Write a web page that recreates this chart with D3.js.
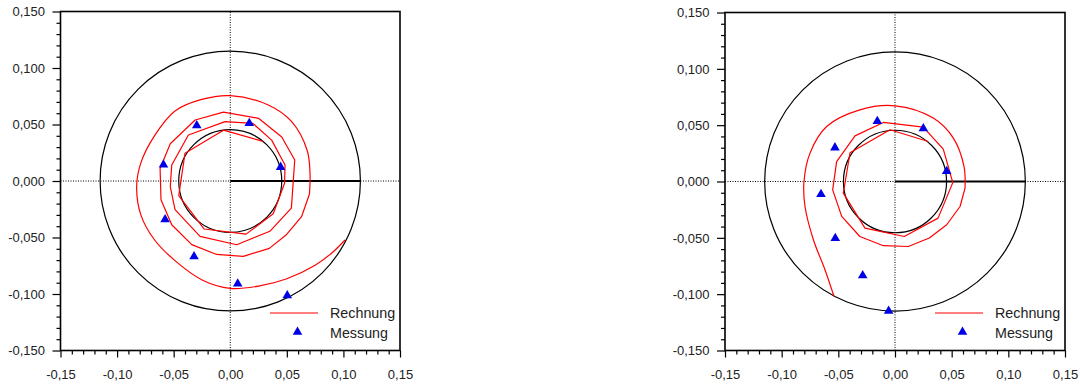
<!DOCTYPE html>
<html>
<head>
<meta charset="utf-8">
<script src="https://cdn.jsdelivr.net/npm/d3@7"></script>
<style>
  html, body { margin: 0; padding: 0; background: #fff; }
  svg { display: block; }
  text { font-family: "Liberation Sans", Arial, Helvetica, sans-serif; fill: #222; }
</style>
</head>
<body>
<script>
// ---- tick values / labels ----
const xTickValues = [-0.15, -0.10, -0.05, 0.00, 0.05, 0.10, 0.15];
const xTickLabels = ["-0,15", "-0,10", "-0,05", "0,00", "0,05", "0,10", "0,15"];
const yTickValues = [-0.15, -0.10, -0.05, 0.00, 0.05, 0.10, 0.15];
const yTickLabels = ["-0,150", "-0,100", "-0,050", "0,000", "0,050", "0,100", "0,150"];
const minorTickValues = [-0.14,-0.13,-0.12,-0.11,-0.09,-0.08,-0.07,-0.06,-0.04,-0.03,-0.02,-0.01,
                          0.01,0.02,0.03,0.04,0.06,0.07,0.08,0.09,0.11,0.12,0.13,0.14];

// ---- reference geometry (data units) ----
const innerCircleRadius = 0.0455;
const outerCircleRadius = 0.115;

// ---- legend ----
const legendLabels = ["Rechnung", "Messung"];

// ---- left chart: calculation (polygonal spiral part) ----
const leftCalcPolygon = [
  [0.029, 0.035], [-0.006, 0.045], [-0.040, 0.0245], [-0.0455, -0.013], [-0.023, -0.0425],
  [0.014, -0.047], [0.038, -0.029], [0.048, -0.002],
  [0.0484, 0.0141], [0.0366, 0.0362], [0.020, 0.051], [-0.0046, 0.0525], [-0.037, 0.0407],
  [-0.0517, 0.0142], [-0.053, -0.005], [-0.0488, -0.0254], [-0.0267, -0.049], [0.0057, -0.0564],
  [0.035, -0.0445], [0.054, -0.024], [0.0557, 0.0],
  [0.057, 0.0186], [0.0455, 0.039], [0.025, 0.0555], [-0.006, 0.061], [-0.031, 0.054],
  [-0.053, 0.033], [-0.062, 0.011], [-0.0612, -0.0165], [-0.0517, -0.0387], [-0.034, -0.0563],
  [-0.012, -0.065], [0.0115, -0.0667], [0.0345, -0.0596], [0.0493, -0.0478], [0.063, -0.0316],
  [0.070, -0.0115]
];
// ---- left chart: calculation (smooth outer part) ----
const leftCalcSmooth = [
  [0.070, -0.0115], [0.0705, 0.006], [0.068, 0.027], [0.0543, 0.0525], [0.0336, 0.0673],
  [0.0, 0.0755], [-0.0252, 0.0722], [-0.0488, 0.062], [-0.067, 0.040], [-0.079, 0.016],
  [-0.0827, -0.005], [-0.079, -0.030], [-0.067, -0.052], [-0.047, -0.072], [-0.024, -0.088],
  [0.0, -0.095], [0.025, -0.093], [0.050, -0.0865], [0.075, -0.0745], [0.090, -0.0635],
  [0.1014, -0.0522]
];
// ---- left chart: measurements ----
const leftMeasured = [
  [-0.0296, 0.0496], [0.0168, 0.0516], [-0.059, 0.0148], [0.0445, 0.0127],
  [-0.0576, -0.0336], [-0.032, -0.0664], [0.0066, -0.0905], [0.0504, -0.1009]
];

// ---- right chart: calculation (polygonal spiral part) ----
const rightCalcPolygon = [
  [0.0294, 0.0355], [-0.0044, 0.0459], [-0.0397, 0.0255], [-0.0456, -0.0103], [-0.0265, -0.0414],
  [0.0082, -0.0488], [0.038, -0.0325], [0.051, -0.001],
  [0.0426, 0.0287], [0.025, 0.0483], [-0.0103, 0.0524], [-0.0353, 0.0405], [-0.0515, 0.0177],
  [-0.055, -0.0074], [-0.047, -0.031], [-0.031, -0.0488], [-0.0103, -0.057], [0.0117, -0.0577],
  [0.0303, -0.0502], [0.0456, -0.0384], [0.0574, -0.0222], [0.0618, -0.0059]
];
// ---- right chart: calculation (smooth outer part) ----
const rightCalcSmooth = [
  [0.0618, -0.0059], [0.0609, 0.0133], [0.0515, 0.0385], [0.0338, 0.0563], [0.0, 0.0672],
  [-0.031, 0.0636], [-0.0603, 0.0488], [-0.075, 0.0252], [-0.0803, 0.0], [-0.0794, -0.0222],
  [-0.072, -0.0517], [-0.0618, -0.0783], [-0.0538, -0.102]
];
// ---- right chart: measurements ----
const rightMeasured = [
  [-0.0156, 0.0539], [0.025, 0.0474], [-0.053, 0.0305], [0.0456, 0.0095],
  [-0.0653, -0.0109], [-0.0527, -0.050], [-0.0285, -0.083], [-0.0056, -0.1145]
];

const W = 1080, H = 387;
const RED = "#ff0000", BLUE = "#0000e6";

const svg = d3.select("body").append("svg").attr("width", W).attr("height", H);

function panel(o) {
  const x = d3.scaleLinear().domain([-0.15, 0.15]).range([o.left, o.right]);
  const y = d3.scaleLinear().domain([-0.15, 0.15]).range([o.bottom, o.top]);
  const g = svg.append("g");

  // dotted cross-hair through origin
  g.append("line")
    .attr("x1", x(-0.15)).attr("x2", x(0.15)).attr("y1", y(0)).attr("y2", y(0))
    .attr("stroke", "#000").attr("stroke-width", 1).attr("stroke-dasharray", "1,1.5");
  g.append("line")
    .attr("x1", x(0)).attr("x2", x(0)).attr("y1", y(-0.15)).attr("y2", y(0.15))
    .attr("stroke", "#000").attr("stroke-width", 1).attr("stroke-dasharray", "1,1.5");

  // circles
  [innerCircleRadius, outerCircleRadius].forEach(r => {
    g.append("ellipse")
      .attr("cx", x(0)).attr("cy", y(0))
      .attr("rx", x(r) - x(0)).attr("ry", y(0) - y(r))
      .attr("fill", "none").attr("stroke", "#000").attr("stroke-width", 1.2);
  });
  // radius line
  g.append("line")
    .attr("x1", x(0)).attr("x2", x(outerCircleRadius)).attr("y1", y(0)).attr("y2", y(0))
    .attr("stroke", "#000").attr("stroke-width", 2);

  // calculation curves
  const lin = d3.line().x(d => x(d[0])).y(d => y(d[1]));
  const smooth = d3.line().x(d => x(d[0])).y(d => y(d[1])).curve(d3.curveCatmullRom.alpha(0.5));
  g.append("path").attr("d", lin(o.poly))
    .attr("fill", "none").attr("stroke", RED).attr("stroke-width", 1.2).attr("stroke-linejoin", "round");
  g.append("path").attr("d", smooth(o.smooth))
    .attr("fill", "none").attr("stroke", RED).attr("stroke-width", 1.2);

  // measurements
  const tri = d3.symbol(d3.symbolTriangle, 40);
  g.selectAll("path.meas").data(o.meas).join("path").attr("class", "meas")
    .attr("transform", d => `translate(${x(d[0])},${y(d[1]) + 0.5})`)
    .attr("d", tri).attr("fill", BLUE);

  // axes: minor ticks
  const fontSize = 13;
  g.append("g").attr("transform", `translate(0,${o.bottom})`)
    .call(d3.axisBottom(x).tickValues(minorTickValues).tickSize(4).tickFormat(""))
    .call(a => a.select(".domain").remove())
    .call(a => a.selectAll("line").attr("stroke", "#000").attr("stroke-width", 1.2));
  g.append("g").attr("transform", `translate(${o.left},0)`)
    .call(d3.axisLeft(y).tickValues(minorTickValues).tickSize(4).tickFormat(""))
    .call(a => a.select(".domain").remove())
    .call(a => a.selectAll("line").attr("stroke", "#000").attr("stroke-width", 1.2));
  // major ticks + labels
  g.append("g").attr("transform", `translate(0,${o.bottom})`)
    .call(d3.axisBottom(x).tickValues(xTickValues).tickSize(7).tickPadding(12.5)
      .tickFormat((d, i) => xTickLabels[i]))
    .call(a => a.select(".domain").remove())
    .call(a => a.selectAll("line").attr("stroke", "#000").attr("stroke-width", 1.2))
    .call(a => a.selectAll("text").attr("font-size", fontSize).attr("fill", "#222")
      .attr("font-family", "'Liberation Sans', Arial, sans-serif"));
  g.append("g").attr("transform", `translate(${o.left},0)`)
    .call(d3.axisLeft(y).tickValues(yTickValues).tickSize(8).tickPadding(7.5)
      .tickFormat((d, i) => yTickLabels[i]))
    .call(a => a.select(".domain").remove())
    .call(a => a.selectAll("line").attr("stroke", "#000").attr("stroke-width", 1.2))
    .call(a => a.selectAll("text").attr("font-size", fontSize).attr("fill", "#222")
      .attr("font-family", "'Liberation Sans', Arial, sans-serif"));

  // frame
  g.append("rect")
    .attr("x", o.left).attr("y", o.top)
    .attr("width", o.right - o.left).attr("height", o.bottom - o.top)
    .attr("fill", "none").attr("stroke", "#000").attr("stroke-width", 1.6);

  // legend
  const lg = g.append("g").attr("transform", `translate(${o.right},${o.bottom})`);
  lg.append("line").attr("x1", -130).attr("x2", -82).attr("y1", -37.5).attr("y2", -37.5)
    .attr("stroke", RED).attr("stroke-width", 1.2);
  lg.append("path").attr("d", tri).attr("fill", BLUE)
    .attr("transform", "translate(-102.5,-18.5)");
  lg.append("text").attr("x", -70).attr("y", -37.5).attr("dy", "0.35em")
    .attr("font-size", 14.3).text(legendLabels[0]);
  lg.append("text").attr("x", -70).attr("y", -18).attr("dy", "0.35em")
    .attr("font-size", 14.3).text(legendLabels[1]);
}

panel({ left: 60.5, right: 400, top: 11.5, bottom: 350.5,
        poly: leftCalcPolygon, smooth: leftCalcSmooth, meas: leftMeasured });
panel({ left: 725, right: 1065, top: 12.5, bottom: 350.5,
        poly: rightCalcPolygon, smooth: rightCalcSmooth, meas: rightMeasured });
</script>
</body>
</html>
